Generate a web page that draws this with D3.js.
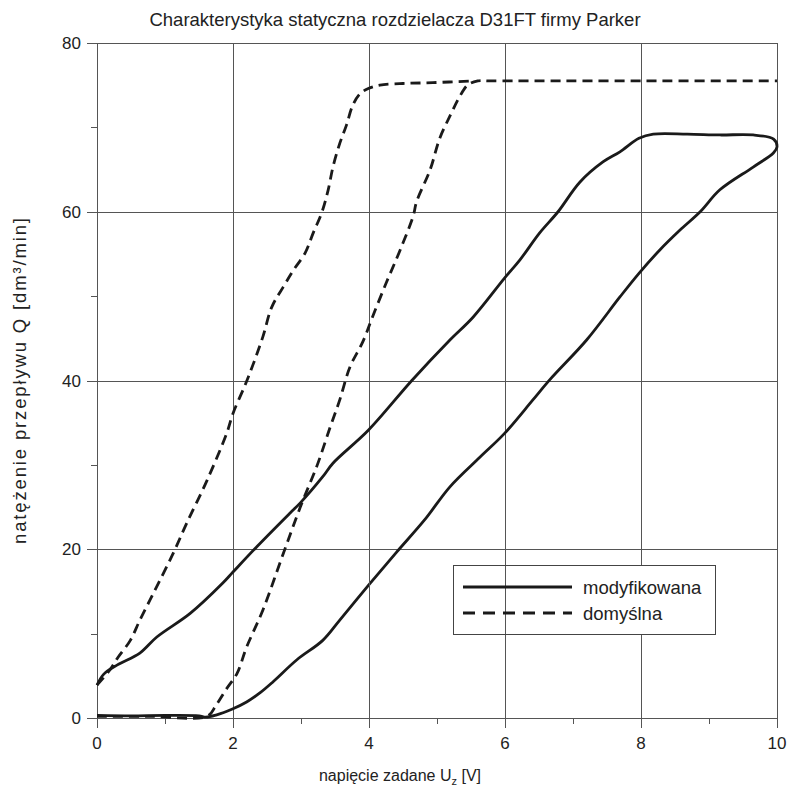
<!DOCTYPE html>
<html>
<head>
<meta charset="utf-8">
<script src="https://cdn.jsdelivr.net/npm/d3@7"></script>
<style>
  body { margin: 0; background: #fff; }
  svg { font-family: "Liberation Sans", Arial, sans-serif; }
</style>
</head>
<body>
<div id="chart"></div>
<script>
const width = 787, height = 796;
const margin = {top: 43, right: 10, bottom: 78, left: 97};

const title = "Charakterystyka statyczna rozdzielacza D31FT firmy Parker";
const xTicks = [0, 2, 4, 6, 8, 10];
const xMinor = [1, 3, 5, 7, 9];
const yTicks = [0, 20, 40, 60, 80];
const yMinor = [10, 30, 50, 70];
const seriesNames = ["modyfikowana", "domyślna"];

// modyfikowana: bottom flat, rising branch to 10 V, upper branch back to 0
const modX = [0, 0.5, 1.0, 1.5, 1.6, 1.75, 2.0, 2.2, 2.4, 2.59, 2.94, 3.32, 3.57, 4.0, 4.4, 4.82, 5.19, 5.63, 5.99, 6.41, 6.66, 7.2, 7.69, 7.97, 8.28, 8.57, 8.87, 9.16, 9.65, 9.95, 10.0,
              9.95, 9.65, 9.16, 8.68, 8.18, 7.97, 7.69, 7.44, 7.1, 6.78, 6.51, 6.22, 5.99, 5.53, 5.19, 4.63, 3.99, 3.47, 3.32, 2.99, 2.84, 2.35, 2.0, 1.85, 1.37, 0.88, 0.63, 0.3, 0.1, 0];
const modQ = [0.3, 0.25, 0.3, 0.25, 0.1, 0.35, 1.1, 1.9, 3.0, 4.3, 6.9, 9.2, 11.6, 15.8, 19.6, 23.5, 27.4, 30.9, 33.7, 37.7, 40.1, 44.8, 49.9, 52.7, 55.5, 57.8, 60.0, 62.6, 65.3, 67.0, 67.7,
              68.6, 69.1, 69.1, 69.2, 69.2, 68.7, 67.1, 65.9, 63.5, 60.0, 57.5, 54.3, 52.1, 47.5, 44.8, 40.0, 34.1, 30.2, 28.6, 25.5, 24.3, 20.3, 17.3, 16.0, 12.4, 9.6, 7.7, 6.3, 5.2, 3.9];

// domyślna, left branch: from 0 V up to the plateau
const defLeftX = [0, 0.19, 0.31, 0.49, 0.63, 0.78, 0.93, 1.12, 1.32, 1.62, 1.91, 2.0, 2.18, 2.3, 2.44, 2.57, 2.74, 2.89, 3.06, 3.18, 3.31, 3.4, 3.47, 3.57, 3.67, 3.76, 3.87, 3.99, 4.16, 4.5, 4.94, 5.5];
const defLeftQ = [3.9, 5.7, 7.2, 9.2, 11.6, 14.0, 16.4, 19.5, 23.1, 28.2, 33.8, 36.1, 39.5, 42.0, 45.2, 48.7, 51.1, 53.1, 55.1, 57.5, 60.0, 62.6, 65.3, 68.1, 70.3, 72.6, 74.0, 74.6, 75.0, 75.2, 75.3, 75.5];
// domyślna, right branch: flat at zero, rising, plateau to 10 V
const defRightX = [0, 0.8, 1.62, 1.75, 1.9, 2.06, 2.2, 2.44, 2.74, 2.99, 3.24, 3.43, 3.57, 3.72, 3.91, 4.05, 4.26, 4.46, 4.65, 4.7, 4.9, 5.04, 5.2, 5.33, 5.45, 5.6, 5.8, 6.5, 8.0, 10.0];
const defRightQ = [0.2, 0.2, 0.2, 1.5, 3.4, 5.3, 8.4, 12.8, 19.5, 25.0, 30.0, 34.5, 37.7, 41.6, 44.6, 47.5, 51.7, 55.5, 59.5, 61.2, 65.0, 68.7, 71.5, 73.6, 75.0, 75.5, 75.5, 75.5, 75.5, 75.5];

const svg = d3.select("#chart").append("svg")
    .attr("width", width).attr("height", height);

const x = d3.scaleLinear().domain([0, 10]).range([margin.left, 777]);
const y = d3.scaleLinear().domain([0, 80]).range([718, margin.top]);

// grid
const grid = svg.append("g").attr("stroke", "#555").attr("stroke-width", 1);
grid.selectAll(".gx").data(xTicks).enter().append("line")
    .attr("x1", d => Math.round(x(d)) + 0.5).attr("x2", d => Math.round(x(d)) + 0.5)
    .attr("y1", y(80)).attr("y2", y(0) + 10);
grid.selectAll(".gy").data(yTicks).enter().append("line")
    .attr("y1", d => Math.round(y(d)) + 0.5).attr("y2", d => Math.round(y(d)) + 0.5)
    .attr("x1", x(0) - 10).attr("x2", x(10));
grid.selectAll(".mx").data(xMinor).enter().append("line")
    .attr("x1", d => Math.round(x(d)) + 0.5).attr("x2", d => Math.round(x(d)) + 0.5)
    .attr("y1", y(0)).attr("y2", y(0) + 6);
grid.selectAll(".my").data(yMinor).enter().append("line")
    .attr("y1", d => Math.round(y(d)) + 0.5).attr("y2", d => Math.round(y(d)) + 0.5)
    .attr("x1", x(0) - 6).attr("x2", x(0));

// tick labels
svg.append("g").selectAll("text").data(xTicks).enter().append("text")
    .attr("x", d => x(d)).attr("y", 749)
    .attr("text-anchor", "middle").attr("font-size", 17).attr("fill", "#222")
    .text(d => d);
svg.append("g").selectAll("text").data(yTicks).enter().append("text")
    .attr("x", 81).attr("y", d => y(d) + 6)
    .attr("text-anchor", "end").attr("font-size", 17).attr("fill", "#222")
    .text(d => d);

// title and axis labels
svg.append("text").attr("x", 395).attr("y", 26).attr("text-anchor", "middle")
    .attr("font-size", 18.5).attr("fill", "#222").text(title);

const xl = svg.append("text").attr("x", 400).attr("y", 781).attr("text-anchor", "middle")
    .attr("font-size", 16).attr("fill", "#222");
xl.append("tspan").text("napięcie zadane U");
xl.append("tspan").attr("font-size", 11).attr("dy", 4).text("z");
xl.append("tspan").attr("dy", -4).text(" [V]");

svg.append("text").attr("transform", "translate(26,381) rotate(-90)")
    .attr("text-anchor", "middle").attr("font-size", 18.5).attr("fill", "#222")
    .attr("textLength", 326).attr("lengthAdjust", "spacing")
    .text("natężenie przepływu Q [dm³/min]");

// curves
const line = d3.line().x(d => x(d[0])).y(d => y(d[1])).curve(d3.curveCatmullRom.alpha(0.5));
svg.append("path").datum(modX.map((v, i) => [v, modQ[i]]))
    .attr("d", line).attr("fill", "none").attr("stroke", "#1a1a1a")
    .attr("stroke-width", 2.8).attr("stroke-linejoin", "round");
[[defLeftX, defLeftQ], [defRightX, defRightQ]].forEach(([xs, qs]) => {
    svg.append("path").datum(xs.map((v, i) => [v, qs[i]]))
        .attr("d", line).attr("fill", "none").attr("stroke", "#1a1a1a")
        .attr("stroke-width", 2.8).attr("stroke-dasharray", "10,6");
});

// legend
const lg = svg.append("g");
lg.append("rect").attr("x", 453.5).attr("y", 565.5).attr("width", 262).attr("height", 69)
    .attr("fill", "#fff").attr("stroke", "#444").attr("stroke-width", 1);
// gridlines pass through the legend box in the reference
lg.selectAll(".lgx").data([4, 6]).enter().append("line")
    .attr("x1", d => Math.round(x(d)) + 0.5).attr("x2", d => Math.round(x(d)) + 0.5)
    .attr("y1", 566).attr("y2", 634).attr("stroke", "#555");
lg.selectAll(".ls").data(seriesNames).enter().append("line")
    .attr("x1", 463).attr("x2", 572)
    .attr("y1", (d, i) => 587 + i * 26).attr("y2", (d, i) => 587 + i * 26)
    .attr("stroke", "#1a1a1a").attr("stroke-width", 2.8)
    .attr("stroke-dasharray", (d, i) => i ? "12,8" : null);
lg.selectAll(".lt").data(seriesNames).enter().append("text")
    .attr("x", 583).attr("y", (d, i) => 594 + i * 26)
    .attr("font-size", 18.5).attr("fill", "#222").text(d => d);
</script>
</body>
</html>
